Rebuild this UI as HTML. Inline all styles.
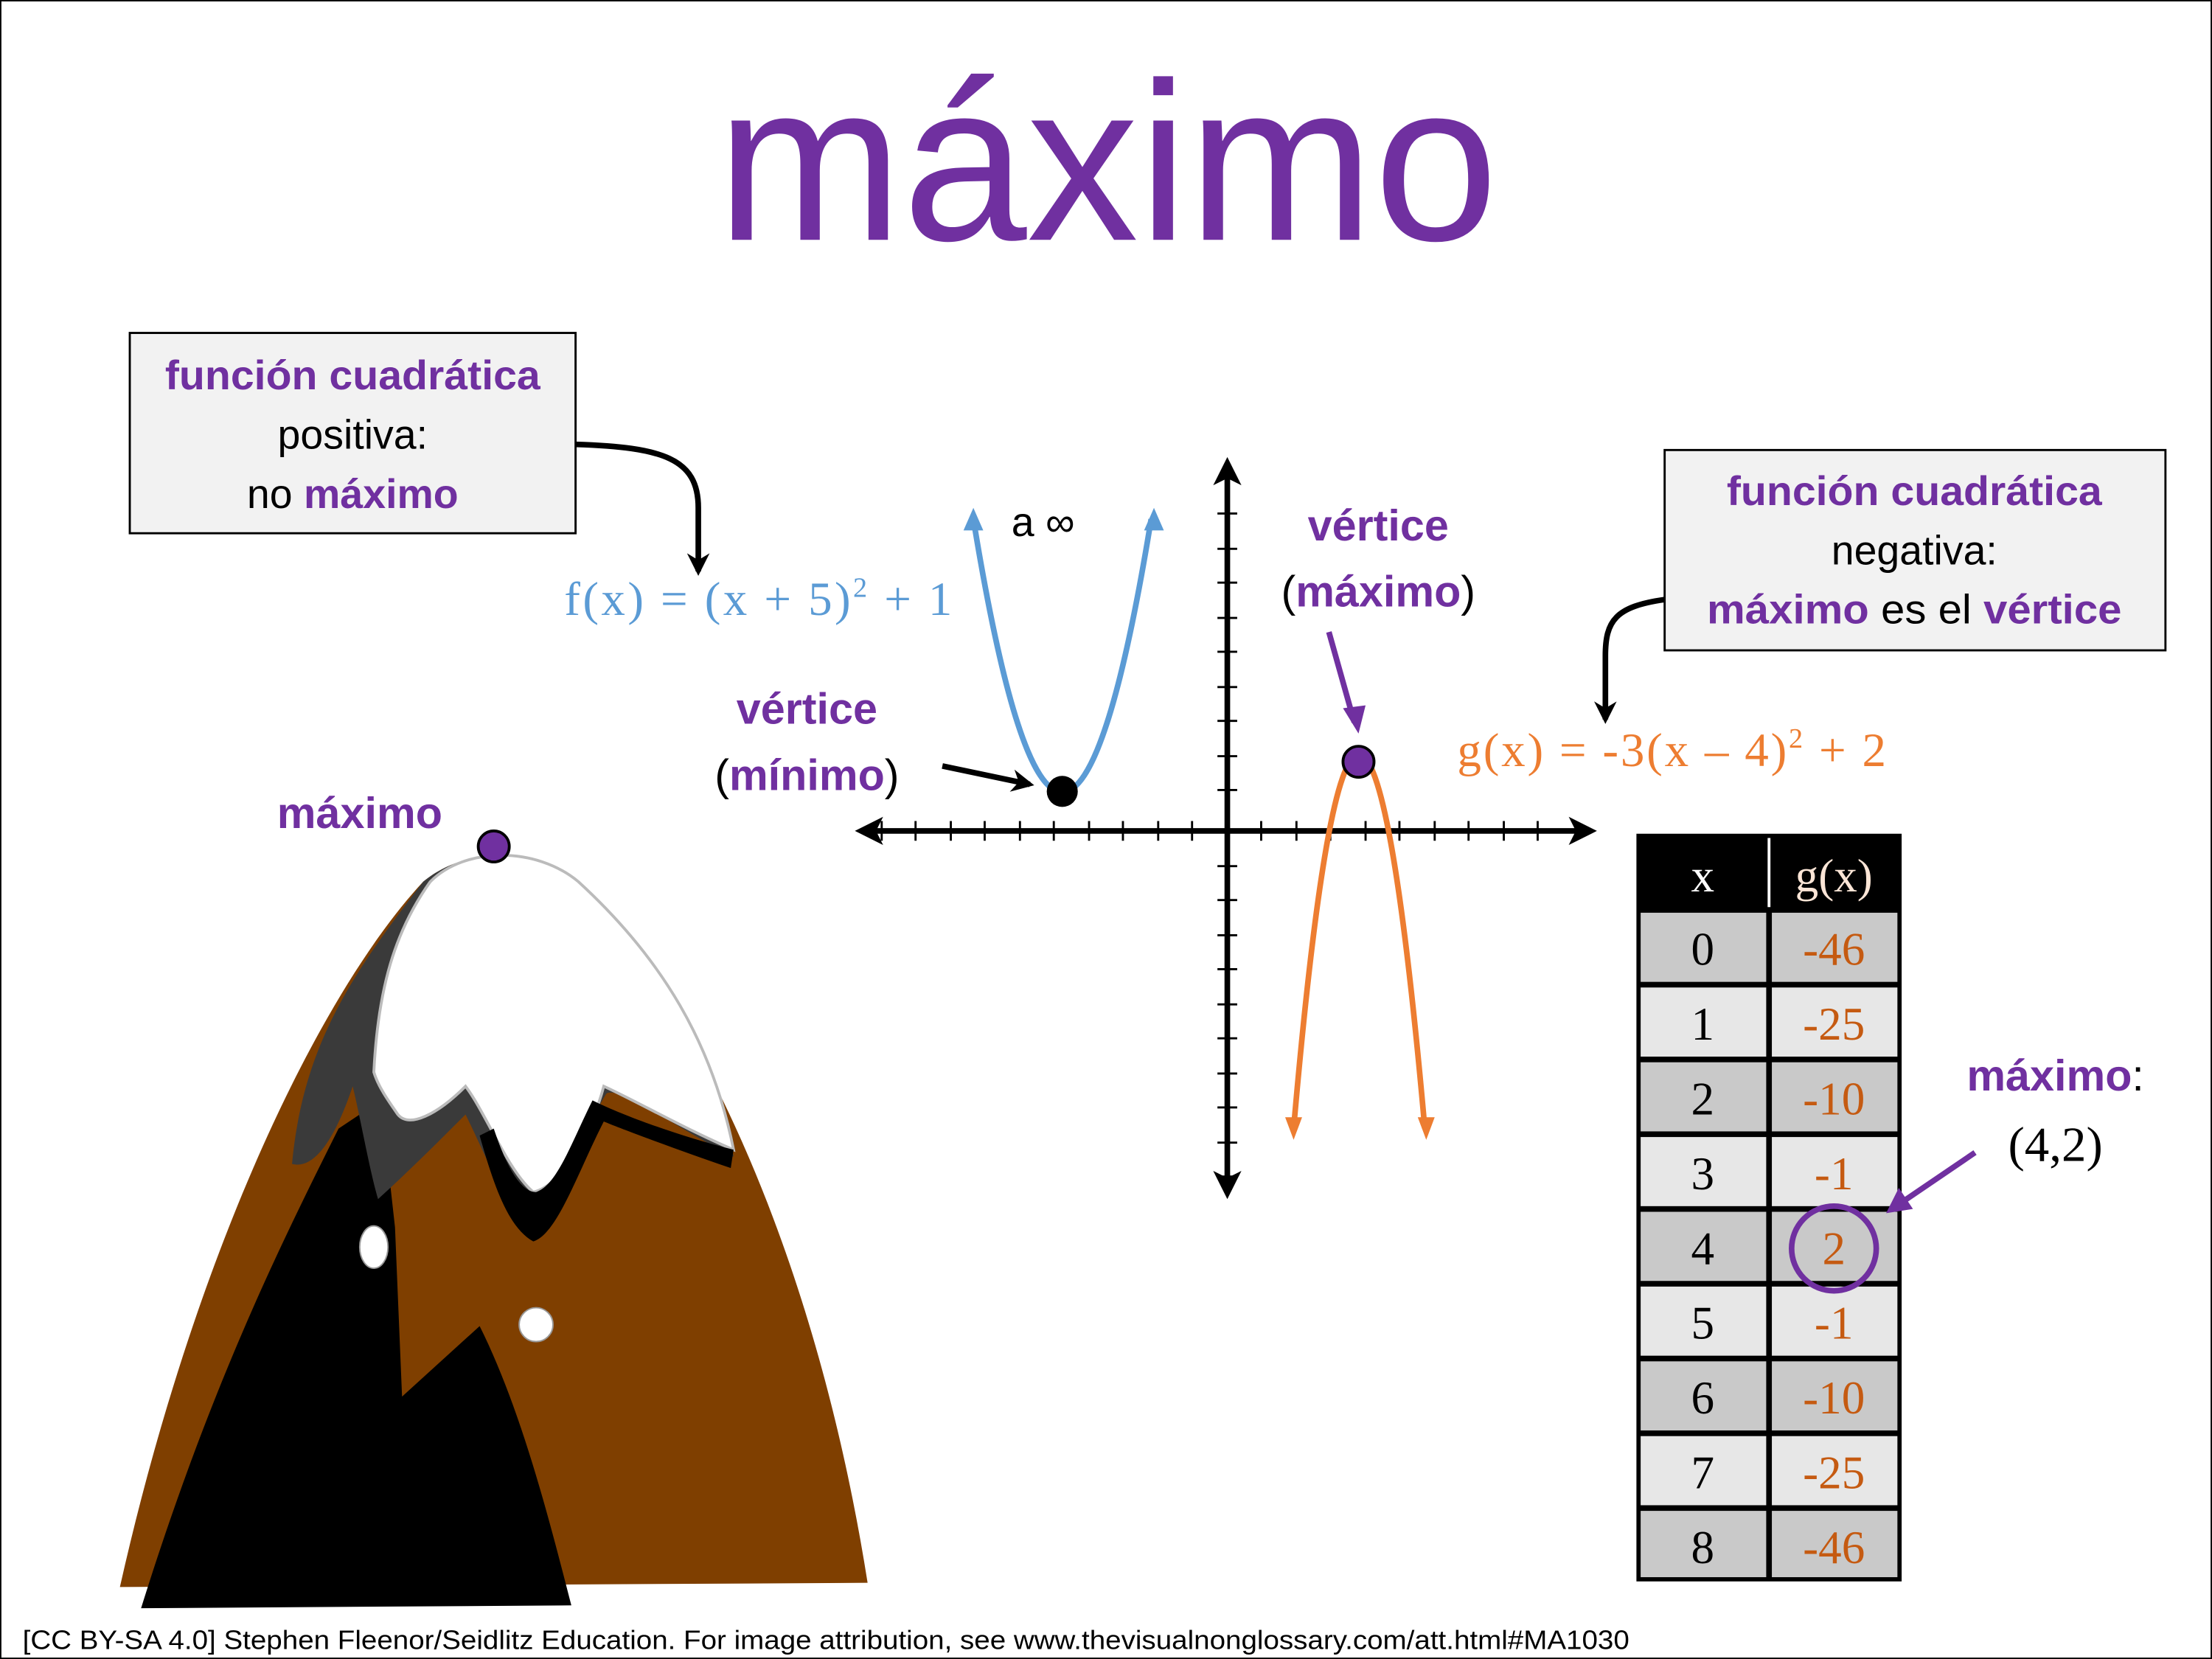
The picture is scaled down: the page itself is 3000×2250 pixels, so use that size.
<!DOCTYPE html>
<html><head><meta charset="utf-8"><style>
html,body{margin:0;padding:0;background:#fff;}
svg{display:block;}
.s{font-family:"Liberation Sans",sans-serif;}
.r{font-family:"Liberation Serif",serif;}
</style></head><body>
<svg width="3000" height="2250" viewBox="0 0 1568 1176" xmlns="http://www.w3.org/2000/svg">
<defs>
<marker id="ax" viewBox="0 0 10 10" markerWidth="18" markerHeight="16" refX="8" refY="5" orient="auto" markerUnits="userSpaceOnUse"><path d="M0,0 L10,5 L0,10 L3,5 z" fill="#000"/></marker>
</defs>
<rect x="0.5" y="0.5" width="1567" height="1175" fill="#fff" stroke="#000" stroke-width="1"/>
<text x="785" y="170" text-anchor="middle" class="s" font-size="160" fill="#7030A0" textLength="554" lengthAdjust="spacingAndGlyphs">máximo</text>

<!-- left box -->
<rect x="92" y="236" width="316" height="142" fill="#f2f2f2" stroke="#000" stroke-width="1.5"/>
<text x="250" y="276" text-anchor="middle" class="s" font-size="29" font-weight="bold" fill="#7030A0" textLength="266" lengthAdjust="spacingAndGlyphs">función cuadrática</text>
<text x="250" y="318" text-anchor="middle" class="s" font-size="29">positiva:</text>
<text x="250" y="360" text-anchor="middle" class="s" font-size="29">no <tspan font-weight="bold" fill="#7030A0">máximo</tspan></text>
<path d="M408,315 C470,317 495,325 495,360 L495,405" fill="none" stroke="#000" stroke-width="4" marker-end="url(#ax)"/>
<text x="400" y="436" class="r" font-size="34" fill="#5B9BD5" textLength="275" lengthAdjust="spacing">f(x) = (x + 5)<tspan font-size="20" dy="-13">2</tspan><tspan dy="13"> + 1</tspan></text>

<!-- axes -->
<g stroke="#000" stroke-width="4">
<line x1="615" y1="589" x2="1124" y2="589"/>
<line x1="870" y1="332" x2="870" y2="842"/>
</g>
<path d="M606,589 L626,579 L621,589 L626,599 z" fill="#000"/>
<path d="M1132,589 L1112,579 L1117,589 L1112,599 z" fill="#000"/>
<path d="M870,324 L860,344 L870,339 L880,344 z" fill="#000"/>
<path d="M870,850 L860,830 L870,835 L880,830 z" fill="#000"/>
<g stroke="#000" stroke-width="1.5">
<path d="M625,582v14M649,582v14M674,582v14M698,582v14M723,582v14M747,582v14M772,582v14M796,582v14M821,582v14M845,582v14M894,582v14M919,582v14M943,582v14M968,582v14M992,582v14M1017,582v14M1041,582v14M1066,582v14M1090,582v14"/>
<path d="M863,364h14M863,389h14M863,413h14M863,438h14M863,462h14M863,487h14M863,511h14M863,536h14M863,560h14M863,614h14M863,638h14M863,663h14M863,687h14M863,712h14M863,736h14M863,761h14M863,785h14M863,810h14M863,834h14"/>
</g>

<!-- blue parabola -->
<path d="M690,368 Q753,755 816,368" fill="none" stroke="#5B9BD5" stroke-width="4"/>
<path d="M690,360 L683,376 L697,376 z" fill="#5B9BD5"/>
<path d="M818,360 L811,376 L825,376 z" fill="#5B9BD5"/>
<text x="717" y="380" class="s" font-size="29">a ∞</text>
<circle cx="753" cy="561" r="11" fill="#000"/>
<text x="572" y="513" text-anchor="middle" class="s" font-size="31" font-weight="bold" fill="#7030A0">vértice</text>
<text x="572" y="560" text-anchor="middle" class="s" font-size="31">(<tspan font-weight="bold" fill="#7030A0">mínimo</tspan>)</text>
<line x1="668" y1="543" x2="730" y2="556" stroke="#000" stroke-width="4" marker-end="url(#ax)"/>

<!-- orange parabola -->
<path d="M917,800 Q963,270 1010,800" fill="none" stroke="#ED7D31" stroke-width="4"/>
<path d="M917,808 L911,792 L923,792 z" fill="#ED7D31"/>
<path d="M1011,808 L1005,792 L1017,792 z" fill="#ED7D31"/>
<circle cx="963" cy="540" r="11" fill="#7030A0" stroke="#000" stroke-width="2"/>
<text x="977" y="383" text-anchor="middle" class="s" font-size="31" font-weight="bold" fill="#7030A0">vértice</text>
<text x="977" y="430" text-anchor="middle" class="s" font-size="31">(<tspan font-weight="bold" fill="#7030A0">máximo</tspan>)</text>
<line x1="942" y1="448" x2="960" y2="512" stroke="#7030A0" stroke-width="4"/>
<path d="M963,520 L952,502 L968,500 z" fill="#7030A0"/>

<!-- right box -->
<rect x="1180" y="319" width="355" height="142" fill="#f2f2f2" stroke="#000" stroke-width="1.5"/>
<text x="1357" y="358" text-anchor="middle" class="s" font-size="29" font-weight="bold" fill="#7030A0" textLength="266" lengthAdjust="spacingAndGlyphs">función cuadrática</text>
<text x="1357" y="400" text-anchor="middle" class="s" font-size="29">negativa:</text>
<text x="1357" y="442" text-anchor="middle" class="s" font-size="29" textLength="294" lengthAdjust="spacingAndGlyphs"><tspan font-weight="bold" fill="#7030A0">máximo</tspan> es el <tspan font-weight="bold" fill="#7030A0">vértice</tspan></text>
<path d="M1180,425 C1145,430 1138,440 1138,465 L1138,510" fill="none" stroke="#000" stroke-width="4" marker-end="url(#ax)"/>
<text x="1033" y="543" class="r" font-size="34" fill="#ED7D31" textLength="304" lengthAdjust="spacing">g(x) = -3(x – 4)<tspan font-size="20" dy="-13">2</tspan><tspan dy="13"> + 2</tspan></text>

<!-- table -->
<rect x="1160" y="591" width="188" height="530" fill="#000"/>
<rect x="1163" y="647" width="89" height="49" fill="#c9c9c9"/><rect x="1256" y="647" width="89" height="49" fill="#c9c9c9"/>
<rect x="1163" y="700" width="89" height="49" fill="#e7e7e7"/><rect x="1256" y="700" width="89" height="49" fill="#e7e7e7"/>
<rect x="1163" y="753" width="89" height="49" fill="#c9c9c9"/><rect x="1256" y="753" width="89" height="49" fill="#c9c9c9"/>
<rect x="1163" y="806" width="89" height="49" fill="#e7e7e7"/><rect x="1256" y="806" width="89" height="49" fill="#e7e7e7"/>
<rect x="1163" y="859" width="89" height="49" fill="#c9c9c9"/><rect x="1256" y="859" width="89" height="49" fill="#c9c9c9"/>
<rect x="1163" y="912" width="89" height="49" fill="#e7e7e7"/><rect x="1256" y="912" width="89" height="49" fill="#e7e7e7"/>
<rect x="1163" y="965" width="89" height="49" fill="#c9c9c9"/><rect x="1256" y="965" width="89" height="49" fill="#c9c9c9"/>
<rect x="1163" y="1018" width="89" height="49" fill="#e7e7e7"/><rect x="1256" y="1018" width="89" height="49" fill="#e7e7e7"/>
<rect x="1163" y="1071" width="89" height="47" fill="#c9c9c9"/><rect x="1256" y="1071" width="89" height="47" fill="#c9c9c9"/>
<line x1="1254" y1="594" x2="1254" y2="643" stroke="#fff" stroke-width="2"/>
<g class="r" font-size="33" text-anchor="middle">
<text x="1207" y="632" fill="#fff">x</text><text x="1300" y="632" fill="#FBE5D6">g(x)</text>
<g fill="#000"><text x="1207" y="684">0</text><text x="1207" y="737">1</text><text x="1207" y="790">2</text><text x="1207" y="843">3</text><text x="1207" y="896">4</text><text x="1207" y="949">5</text><text x="1207" y="1002">6</text><text x="1207" y="1055">7</text><text x="1207" y="1108">8</text></g>
<g fill="#C55A11"><text x="1300" y="684">-46</text><text x="1300" y="737">-25</text><text x="1300" y="790">-10</text><text x="1300" y="843">-1</text><text x="1300" y="896">2</text><text x="1300" y="949">-1</text><text x="1300" y="1002">-10</text><text x="1300" y="1055">-25</text><text x="1300" y="1108">-46</text></g>
</g>
<circle cx="1300" cy="885" r="30" fill="none" stroke="#7030A0" stroke-width="4"/>
<text x="1457" y="773" text-anchor="middle" class="s" font-size="31"><tspan font-weight="bold" fill="#7030A0">máximo</tspan>:</text>
<text x="1457" y="823" text-anchor="middle" class="r" font-size="35">(4,2)</text>
<line x1="1400" y1="817" x2="1350" y2="851" stroke="#7030A0" stroke-width="4"/>
<path d="M1337,860 L1346,842 L1356,857 z" fill="#7030A0"/>

<!-- mountain -->
<text x="255" y="587" text-anchor="middle" class="s" font-size="31" font-weight="bold" fill="#7030A0">máximo</text>
<path d="M85,1125 C140,880 230,700 300,625 C330,600 380,600 410,625 C500,720 580,900 615,1122 Z" fill="#7F3F00"/>
<path d="M100,1140 C150,980 200,880 240,800 L270,780 L280,870 L285,990 L340,940 C370,1000 390,1080 405,1138 Z" fill="#000"/>
<path d="M207,825 C215,740 250,690 300,625 C330,600 380,600 410,625 C470,680 505,740 520,820 C480,800 440,770 430,775 C420,790 400,840 378,875 C360,860 345,820 330,790 C310,810 290,830 268,850 C262,830 255,790 250,770 C240,800 225,830 207,825 Z" fill="#3a3a3a"/>
<path d="M265,760 C268,700 280,660 305,625 C330,600 380,600 410,625 C470,680 505,740 520,815 C485,800 450,780 428,770 C420,800 400,840 378,845 C360,830 345,790 330,770 C310,790 290,800 282,790 C275,780 268,770 265,760 Z" fill="#fff" stroke="#bbb" stroke-width="2"/>
<path d="M350,800 C360,830 370,845 380,845 C395,840 405,810 420,780 C440,790 480,805 520,815 L518,828 C480,815 440,800 428,795 C410,830 395,875 378,880 C360,870 350,840 340,805 Z" fill="#000"/>
<ellipse cx="265" cy="884" rx="10" ry="15" fill="#fff" stroke="#999"/>
<ellipse cx="380" cy="939" rx="12" ry="12" fill="#fff" stroke="#999"/>
<circle cx="350" cy="600" r="11" fill="#7030A0" stroke="#000" stroke-width="2"/>

<text x="16" y="1169" class="s" font-size="19" textLength="1139" lengthAdjust="spacingAndGlyphs">[CC BY-SA 4.0] Stephen Fleenor/Seidlitz Education.  For image attribution, see www.thevisualnonglossary.com/att.html#MA1030</text>
</svg>
</body></html>
